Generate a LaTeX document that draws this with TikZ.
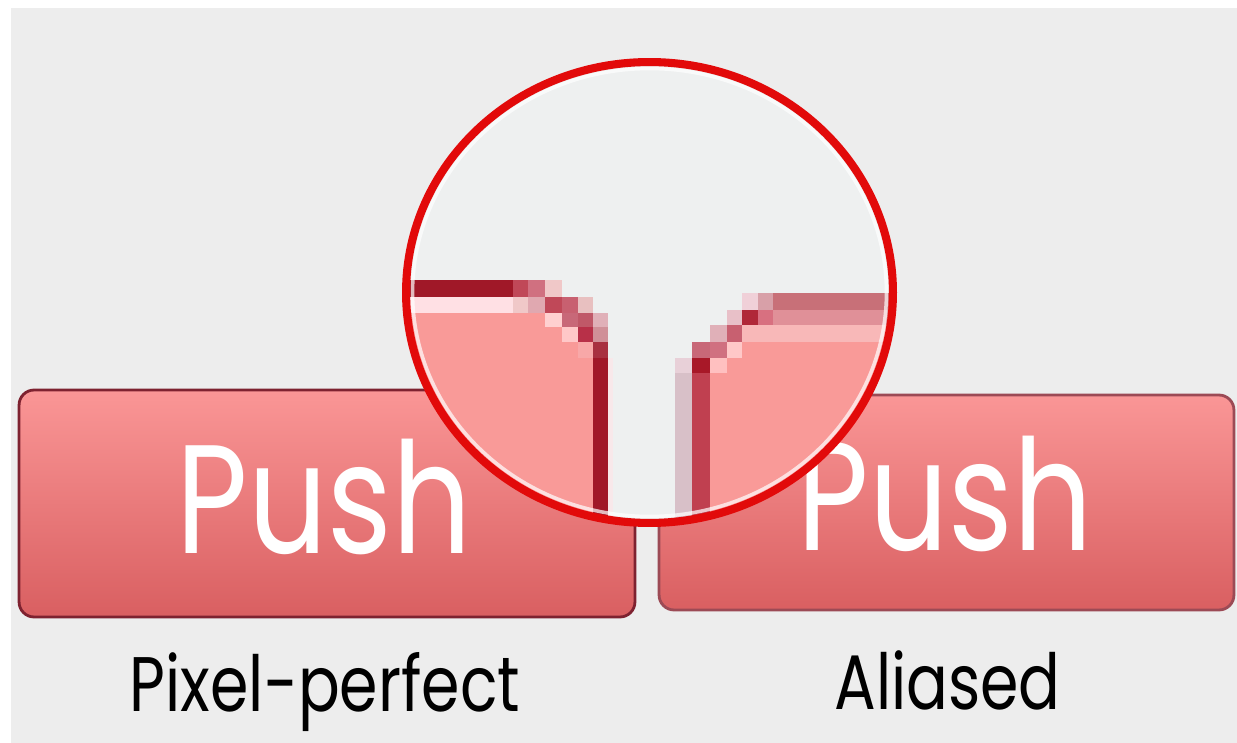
\documentclass[tikz,border=0pt]{standalone}
\usepackage{fontspec}
\setmainfont{Poppins}[FakeStretch=0.8]
\usetikzlibrary{positioning,calc}
\definecolor{bggray}{HTML}{EDEDED}
\definecolor{lensgray}{HTML}{EEF0F0}
\definecolor{btntop}{HTML}{FA9696}
\definecolor{btnbot}{HTML}{D95F61}
\definecolor{btnedge}{HTML}{7E2230}
\definecolor{btnedgelt}{HTML}{9C4A55}
\definecolor{ringred}{HTML}{E20A0A}
\definecolor{pinkfill}{HTML}{F99A98}
\tikzset{
  btn/.style={draw=btnedge, line width=1.6pt, rounded corners=0.3cm,
              top color=btntop, bottom color=btnbot},
  pushtxt/.style={text=white, font=\fontsize{88}{90}\selectfont, inner sep=0pt},
  caption/.style={text=black, font=\fontsize{44}{46}\selectfont, inner sep=0pt},
  ring/.style={draw=ringred, line width=4.6pt}
}
\begin{document}
\begin{tikzpicture}[x=0.02cm, y=-0.02cm]
\useasboundingbox (0,0) rectangle (1237,743);
\fill[white] (0,0) rectangle (1237,743);
\fill[bggray] (11,8) rectangle (1237,743);

% the two buttons
\node[btn, minimum width=12.32cm, minimum height=4.54cm] (leftbtn) at (327,503.5) {};
\node[btn, draw=btnedgelt, minimum width=11.5cm, minimum height=4.3cm] (rightbtn) at (946.5,502.5) {};
\node[pushtxt, anchor=base] (lefttxt) at ($(leftbtn.center)+(-3,49.5)$) {Push};
\node[pushtxt, anchor=base] (righttxt) at ($(rightbtn.center)+(-1.5,47.5)$) {Push};

% captions
\node[caption, anchor=base] (leftcap) at ($(leftbtn.south)+(-2,93)$) {Pixel-perfect};
\node[caption, anchor=base] (rightcap) at ($(rightbtn.south)+(1,98)$) {Aliased};

% magnified corners
\begin{scope}
\clip (649.5,292.5) ellipse [x radius=4.87cm, y radius=4.61cm];
\fill[lensgray] (380,40) rectangle (920,540);
% left corner, pixel-perfect
\fill[pinkfill] (380,313) rectangle (593,540);
\foreach \xa/\ya/\xb/\yb/\c in {
  380/280/513/297/A01828, 513/280/528/297/C04858, 528/280/545/297/D07080, 545/280/562/297/F0C8C8,
  380/297/513/313/FFE0E4, 513/297/528/313/F0C8C8, 528/297/545/313/E0A8B0, 545/297/562/313/C04858,
  562/297/578/313/C86070, 578/297/593/313/E8C0C0,
  545/313/562/327/FFD0D0, 562/313/578/327/C86878, 578/313/593/327/C05868, 593/313/608/327/E0B0B8,
  562/327/578/342/FFC8C8, 578/327/593/342/B83048, 593/327/608/342/D09098,
  578/342/593/358/F8A8A8, 593/342/608/358/A83040,
  593/358/608/540/A01828, 608/358/613/540/F8E8EA}
  {\definecolor{cellc}{HTML}{\c}\fill[cellc] (\xa,\ya) rectangle (\xb,\yb);}
% right corner, aliased
\fill[pinkfill] (710,342) rectangle (920,540);
\foreach \xa/\ya/\xb/\yb/\c in {
  742/293/758/310/F0D0D8, 758/293/773/310/D8A0A8, 773/293/920/310/C87078,
  727/310/742/325/E8C0C8, 742/310/758/325/B02838, 758/310/773/325/D87080, 773/310/920/325/E09098,
  710/325/727/342/E0B0B8, 727/325/742/342/C86070, 742/325/920/342/F8B8B8,
  692/342/710/358/C86878, 710/342/727/358/D07080, 727/342/742/358/FFC8C8,
  675/358/692/373/E8D0D8, 692/358/710/373/A81828, 710/358/727/373/FFC0C0,
  675/373/692/540/D8C0C8, 692/373/710/540/C04050}
  {\definecolor{cellc}{HTML}{\c}\fill[cellc] (\xa,\ya) rectangle (\xb,\yb);}
\draw[white, line width=2pt, opacity=0.7] (649.5,292.5) ellipse [x radius=4.74cm, y radius=4.48cm];
\end{scope}

\draw[ring] (649.5,292.5) ellipse [x radius=4.87cm, y radius=4.61cm];
\end{tikzpicture}
\end{document}
